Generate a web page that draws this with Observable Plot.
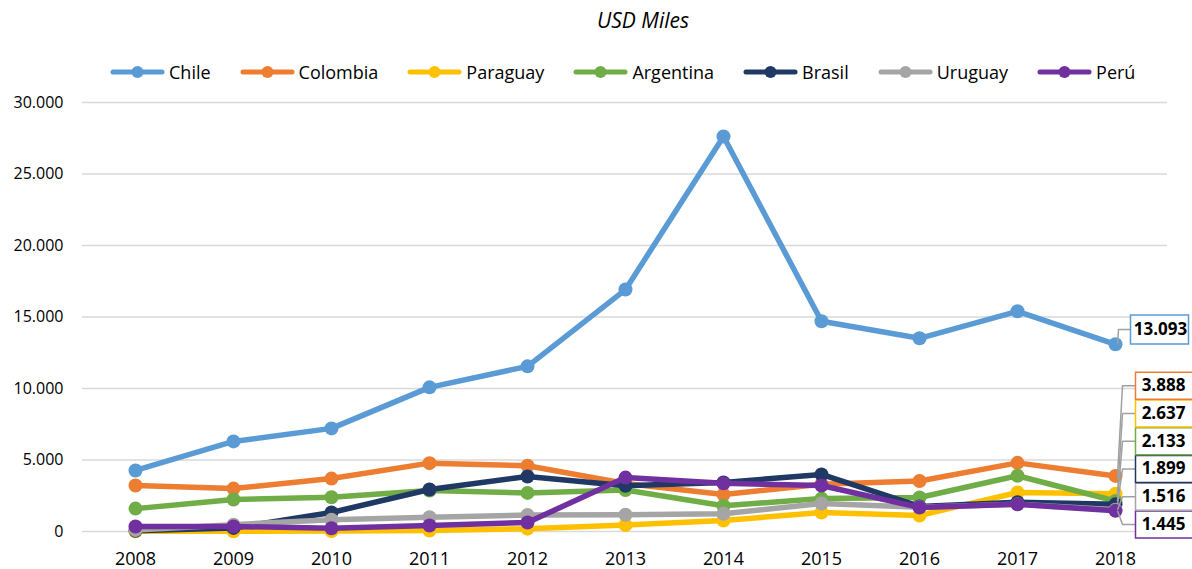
<!DOCTYPE html>
<html>
<head>
<meta charset="utf-8">
<script src="https://cdn.jsdelivr.net/npm/d3@7"></script>
<script src="https://cdn.jsdelivr.net/npm/@observablehq/plot@0.6"></script>
<style>
  body { margin: 0; background: #fff; font-family: "Open Sans", sans-serif; }
  #wrap { width: 1192px; height: 569px; position: relative; overflow: hidden; }
  #title { height: 40px; position: relative; }
  #title span { position: absolute; left: 597px; top: 6px; font-style: italic; font-size: 21px; color: #000; }
  #legend { height: 48px; display: flex; align-items: center; padding-left: 110px; gap: 29px; box-sizing: border-box; padding-top: 16px; }
  .item { display: flex; align-items: center; gap: 4px; font-size: 18px; color: #000; }
  #chart svg { display: block; }
</style>
</head>
<body>
<div id="wrap">
  <div id="title"><span>USD Miles</span></div>
  <div id="legend"></div>
  <div id="chart"></div>
</div>
<script>
const years = [2008, 2009, 2010, 2011, 2012, 2013, 2014, 2015, 2016, 2017, 2018];
const countries = ["Chile", "Colombia", "Paraguay", "Argentina", "Brasil", "Uruguay", "Perú"];
const colors = ["#5B9BD5", "#ED7D31", "#FFC000", "#70AD47", "#203864", "#A5A5A5", "#7030A0"];
const chile     = [4270, 6300, 7210, 10080, 11550, 16920, 27620, 14700, 13510, 15400, 13093];
const colombia  = [3220, 3000, 3700, 4780, 4600, 3360, 2590, 3300, 3530, 4800, 3888];
const paraguay  = [20, 10, 30, 70, 200, 450, 770, 1330, 1120, 2730, 2637];
const argentina = [1600, 2240, 2400, 2870, 2700, 2900, 1800, 2300, 2380, 3900, 2133];
const brasil    = [50, 250, 1330, 2940, 3850, 3200, 3430, 3990, 1750, 2050, 1899];
const uruguay   = [100, 480, 820, 1000, 1150, 1170, 1240, 1960, 1700, 1900, 1516];
const peru      = [350, 350, 230, 420, 630, 3770, 3370, 3220, 1680, 1900, 1445];
const yTicks = [0, 5000, 10000, 15000, 20000, 25000, 30000];

const seriesValues = [chile, colombia, paraguay, argentina, brasil, uruguay, peru];
const data = countries.flatMap((c, i) => years.map((y, j) => ({country: c, year: y, value: seriesValues[i][j]})));
const colorOf = Object.fromEntries(countries.map((c, i) => [c, colors[i]]));

const locale = d3.formatLocale({decimal: ",", thousands: ".", grouping: [3], currency: ["", ""]});
const fmt = locale.format(",d");

// Legend
const legend = document.getElementById("legend");
countries.forEach((c, i) => {
  const it = document.createElement("div");
  it.className = "item";
  it.innerHTML = `<svg width="55" height="14"><line x1="3" x2="52" y1="7" y2="7" stroke="${colors[i]}" stroke-width="5" stroke-linecap="round"/><circle cx="27.5" cy="7" r="6" fill="${colors[i]}"/></svg><span>${c}</span>`;
  legend.appendChild(it);
});

// Labels for the last year (positions derived from values to avoid overlap)
const last = years[years.length - 1];
const lastVals = countries.map((c, i) => ({country: c, value: seriesValues[i][years.length - 1]}));
const chileLabel = [{...lastVals[0], ly: lastVals[0].value + 1030, year: last}];
const others = lastVals.slice(1).sort((a, b) => a.value - b.value);
let prev = -Infinity;
others.forEach((d, k) => {
  d.ly = k === 0 ? d.value - 950 : Math.max(d.value, prev + 1940);
  d.year = last;
  prev = d.ly;
});

function rectSymbol(w, h) {
  return { draw(ctx) { ctx.rect(-w / 2, -h / 2, w, h); } };
}
function leaderCurve(k, end) {
  return (context) => {
    let pts = [];
    return {
      lineStart() { pts = []; },
      point(x, y) { pts.push([x, y]); },
      lineEnd() {
        if (pts.length < 2) return;
        const [[x1, y1], [x2, y2]] = pts;
        context.moveTo(x1 + 2, y1);
        context.lineTo(x2 + k, y2);
        context.lineTo(x2 + end, y2);
      },
      areaStart() {}, areaEnd() {}
    };
  };
}

const marks = [
  Plot.gridY(yTicks, {stroke: "#d9d9d9", strokeOpacity: 1, strokeWidth: 1.5}),
  Plot.axisY(yTicks, {tickSize: 0, tickPadding: 19, fontSize: 16, tickFormat: fmt, fill: "#000", label: null}),
  Plot.axisX(years, {tickSize: 0, tickPadding: 21, fontSize: 18, tickFormat: d => String(d), fill: "#000", label: null})
];
countries.forEach((c) => {
  const rows = data.filter(d => d.country === c);
  marks.push(Plot.line(rows, {x: "year", y: "value", stroke: colorOf[c], strokeWidth: 5.5, strokeLinejoin: "round", strokeLinecap: "round"}));
  marks.push(Plot.dot(rows, {x: "year", y: "value", fill: colorOf[c], r: 7, stroke: "none"}));
});
marks.push(
  Plot.link(chileLabel, {x1: "year", x2: "year", y1: "value", y2: "ly", stroke: "#a0a0a0", strokeWidth: 1.5, curve: leaderCurve(3, 15)}),
  Plot.link(others, {x1: "year", x2: "year", y1: "value", y2: "ly", stroke: "#a0a0a0", strokeWidth: 1.5, curve: leaderCurve(7, 20)}),
  Plot.dot(chileLabel, {x: "year", y: "ly", dx: 44, symbol: rectSymbol(58, 29), r: 10, fill: "#fff", stroke: d => colorOf[d.country], strokeWidth: 1.5}),
  Plot.dot(others, {x: "year", y: "ly", dx: 52, symbol: rectSymbol(64, 27), r: 10, fill: "#fff", stroke: d => colorOf[d.country], strokeWidth: 1.5}),
  Plot.text(chileLabel, {x: "year", y: "ly", dx: 45, text: d => fmt(d.value), fontSize: 17, fontWeight: "bold", fill: "#000"}),
  Plot.text(others, {x: "year", y: "ly", dx: 48, text: d => fmt(d.value), fontSize: 17, fontWeight: "bold", fill: "#000"})
);

const chart = Plot.plot({
  width: 1192,
  height: 481,
  marginTop: 14,
  marginBottom: 38,
  marginLeft: 82,
  marginRight: 25,
  style: {fontFamily: "'Open Sans', sans-serif", background: "#fff", overflow: "visible"},
  x: {type: "point", domain: years, padding: 0.5, axis: null},
  y: {domain: [0, 30000], axis: null},
  color: {domain: countries, range: colors},
  marks
});
document.getElementById("chart").appendChild(chart);
</script>
</body>
</html>
